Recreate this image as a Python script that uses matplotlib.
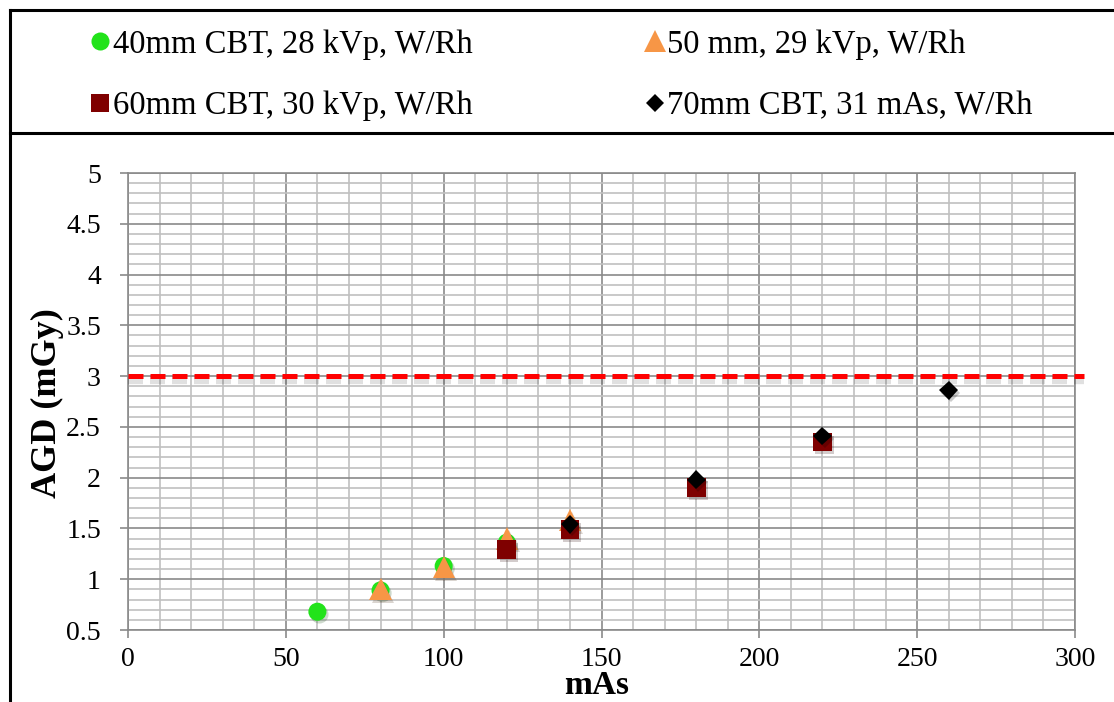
import matplotlib
matplotlib.use('Agg')
import matplotlib.pyplot as plt
import matplotlib.patheffects as pe
from matplotlib.lines import Line2D
from matplotlib.ticker import MultipleLocator

plt.rcParams.update({'font.family': ['Liberation Serif', 'DejaVu Serif'],
                     'mathtext.fontset': 'custom'})

# data
mas_40 = [60, 80, 100, 120]
agd_40 = [0.68, 0.89, 1.13, 1.36]
mas_50 = [80, 100, 120, 140]
agd_50 = [0.90, 1.12, 1.40, 1.58]
mas_60 = [120, 140, 180, 220]
agd_60 = [1.29, 1.49, 1.90, 2.35]
mas_70 = [140, 180, 220, 260]
agd_70 = [1.54, 1.98, 2.41, 2.86]
agd_limit = 3.0

labels = ['40mm CBT, 28 kVp, W/Rh', '50 mm, 29 kVp, W/Rh',
          '60mm CBT, 30 kVp, W/Rh', '70mm CBT, 31 mAs, W/Rh']

W, H = 1114, 702
fig = plt.figure(figsize=(W / 100, H / 100), dpi=100)
ax = fig.add_axes([128 / W, 1 - 630 / H, (1075 - 128) / W, (630 - 173) / H])

shadow = [pe.SimplePatchShadow(offset=(1.5, -2), alpha=0.2), pe.Normal()]
lshadow = [pe.SimpleLineShadow(offset=(0, -3), alpha=0.12, linewidth=6), pe.Normal()]

ax.axhline(agd_limit, xmin=0, xmax=1.009, color='#ff0000', lw=3.6,
           dashes=(3, 1.4), clip_on=False, zorder=3, path_effects=lshadow)

h40, = ax.plot(mas_40, agd_40, 'o', color='#22e31a', ms=13, mew=0, zorder=4, path_effects=shadow)
h50, = ax.plot(mas_50, agd_50, '^', color='#f79646', ms=16, mew=0, zorder=5, path_effects=shadow)
h60, = ax.plot(mas_60, agd_60, 's', color='#7f0000', ms=13.5, mew=0, zorder=6, path_effects=shadow)
h70, = ax.plot(mas_70, agd_70, 'D', color='black', ms=9.5, mew=0, zorder=7, path_effects=shadow)

ax.set_xlim(0, 300)
ax.set_ylim(0.5, 5)
ax.xaxis.set_major_locator(MultipleLocator(50))
ax.xaxis.set_minor_locator(MultipleLocator(10))
ax.yaxis.set_major_locator(MultipleLocator(0.5))
ax.yaxis.set_minor_locator(MultipleLocator(0.1))
ax.set_yticks([0.5, 1, 1.5, 2, 2.5, 3, 3.5, 4, 4.5, 5])
ax.set_yticklabels(['0.5', '1', '1.5', '2', '2.5', '3', '3.5', '4', '4.5', '5'])
ax.grid(which='minor', color='#c0c0c0', lw=1.2, zorder=0)
ax.grid(which='major', color='#8a8a8a', lw=1.2, zorder=1)
ax.set_axisbelow(True)
for s in ax.spines.values():
    s.set_color('#8a8a8a')
    s.set_linewidth(1.2)
ax.tick_params(which='major', length=6, width=1.2, color='#8a8a8a',
               labelsize=20, pad=6)
ax.tick_params(axis='y', pad=13.5)
ax.tick_params(which='minor', length=0)

fig.text(47 / W, 1 - 403 / H, 'AGD (mGy)', rotation=90, ha='center', va='center',
         fontsize=26, fontweight='bold')
fig.text(597 / W, 1 - 701 / H, 'mAs', ha='center', va='bottom',
         fontsize=24, fontweight='bold')

leg = fig.legend([h40, h60, h50, h70], [labels[0], labels[2], labels[1], labels[3]],
                 ncol=2, loc='upper left', bbox_to_anchor=(91 / W, 1 - 29 / H),
                 frameon=False, fontsize=23.5, handlelength=0.55, handletextpad=0.12,
                 labelspacing=0.95, columnspacing=5.3, borderpad=0, borderaxespad=0,
                 numpoints=1)
for hd in leg.legend_handles:
    hd.set_path_effects([])

# frame lines of the chart box
fig.add_artist(Line2D([10 / W, 1], [1 - 10 / H, 1 - 10 / H], color='black', lw=2.2))
fig.add_artist(Line2D([10 / W, 10 / W], [0, 1 - 10 / H], color='black', lw=2.2))
fig.add_artist(Line2D([10 / W, 1], [1 - 133 / H, 1 - 133 / H], color='black', lw=2.2))

fig.savefig('out.png', dpi=100)
